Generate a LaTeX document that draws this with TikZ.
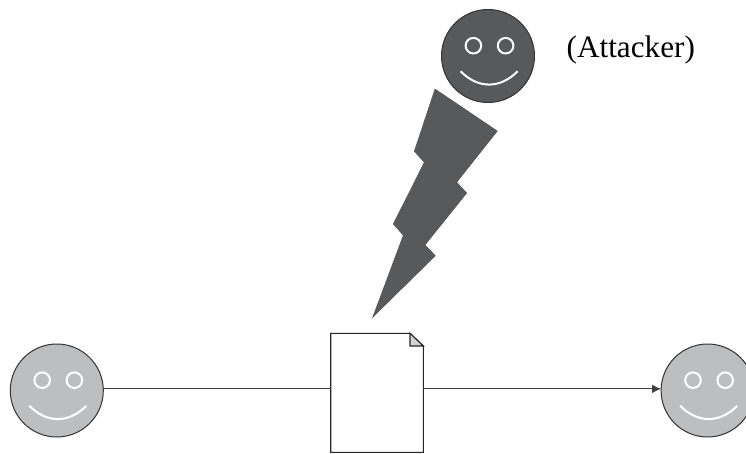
\documentclass[tikz,border=0pt]{standalone}
\usepackage{fontspec}
\setmainfont{Liberation Serif}
\usepackage{xcolor}
\usetikzlibrary{arrows.meta,positioning,calc}
\definecolor{facedark}{HTML}{58595B}
\definecolor{facelight}{HTML}{BCBEC0}
\definecolor{foldgray}{HTML}{D1D3D4}
\tikzset{
  diagarr/.style={line width=1pt, draw=black!75},
  facenode/.style={circle, draw=black!80, line width=1pt, minimum size=93pt, inner sep=0pt, outer sep=0pt},
  facepart/.style={draw=white, line width=2pt},
}

\begin{document}
\begin{tikzpicture}[
  x=1pt, y=-1pt,
  good/.style={facenode, fill=facelight},
  evil/.style={facenode, fill=facedark},
]
  \clip (0,0) rectangle (746,454);
  \fill[white] (0,0) rectangle (746,454);
  \node[good] (sender) at (56.8,390.5) {};
  \node[good] (receiver) at (707.6,390.5) {};
  \node[evil] (attacker) at (488,56) {};
  \node[right=32pt of attacker, yshift=5.5pt, inner sep=0pt, font=\fontsize{31.2}{36}\selectfont] (tag) {(Attacker)};
  \node[minimum width=92.6pt, minimum height=119pt, inner sep=0pt, outer sep=0pt] (doc) at (377,392.8) {};
  % eyes and smile
  \foreach \x in {sender,receiver,attacker}
    \draw[facepart, shift={(\x.center)}]
      (-14.6,-10.3) circle (7.8) (17.6,-10.3) circle (7.8)
      (-27.4,15.3) .. controls (-10,33) and (12,33) .. (29.6,15.3);
  % bolt
  \draw[fill=facedark, draw=black!70, line width=0.4pt]
    (435,89) -- (497.3,131) -- (456.7,182.3) -- (466.7,193) -- (425,245) -- (435.3,255.7)
    -- (372.7,317.3) -- (403.3,235.3) -- (393.3,224) -- (424.3,162.3) -- (414.3,151.3) -- cycle;
  % page
  \draw[fill=white, draw=black!85, line width=1.1pt]
    (doc.south west) -- (doc.north west) -- ($(doc.north east)+(-13.3,0)$)
    -- ($(doc.north east)+(0,12.7)$) -- (doc.south east) -- cycle;
  \draw[fill=foldgray, draw=black!85, line width=1.1pt]
    ($(doc.north east)+(-13.3,0)$) -- ($(doc.north east)+(-13.3,12.7)$)
    -- ($(doc.north east)+(0,12.7)$) -- cycle;
  \draw[diagarr] (sender.2) -- (sender.2 -| doc.west);
  \draw[diagarr, -{Latex[length=9pt,width=8.5pt]}] (doc.east |- receiver.178) -- (receiver.178);
\end{tikzpicture}
\end{document}
